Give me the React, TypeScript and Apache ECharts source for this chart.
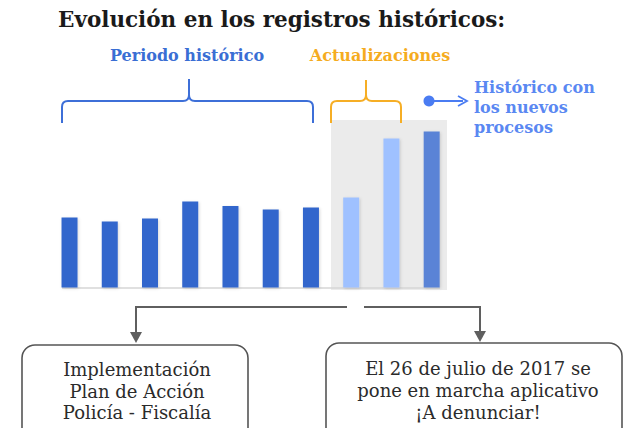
import React, { useEffect, useRef } from 'react';
import * as echarts from 'echarts';

const categories = ['P1', 'P2', 'P3', 'P4', 'P5', 'P6', 'P7', 'P8', 'P9', 'P10'];
const values = [70, 66, 69, 86, 81.5, 78, 80, 90, 149, 156];
const groups = ['hist', 'hist', 'hist', 'hist', 'hist', 'hist', 'hist', 'act', 'act', 'new'];

const titleText = 'Evolución en los registros históricos:';
const histLabel = 'Periodo histórico';
const actLabel = 'Actualizaciones';
const newLabel = ['Histórico con', 'los nuevos', 'procesos'];
const leftBoxLines = ['Implementación', 'Plan de Acción', 'Policía - Fiscalía'];
const rightBoxLines = ['El 26 de julio de 2017 se', 'pone en marcha aplicativo', '¡A denunciar!'];

const groupColors: Record<string, string> = {
  hist: '#3366cc',
  act: '#9fc1ff',
  new: '#5a83d6',
};

let registered = false;
function registerShapes() {
  if (registered) return;
  registered = true;
  echarts.graphic.registerShape(
    'braceBlue',
    echarts.graphic.extendPath(
      'M62,123 L62,107 Q62,101 68,101 L183,101 Q189,101 189,95 L189,79 M189,95 Q189,101 195,101 L307,101 Q313,101 313,107 L313,123',
      {}
    )
  );
  echarts.graphic.registerShape(
    'braceOrange',
    echarts.graphic.extendPath(
      'M331,123 L331,107 Q331,101 337,101 L360,101 Q366,101 366,95 L366,80 M366,95 Q366,101 372,101 L395,101 Q401,101 401,107 L401,123',
      {}
    )
  );
}

function txt(text: string, x: number, y: number, font: string, fill: string, align = 'center', lineHeight?: number) {
  return {
    type: 'text',
    x,
    y,
    z: 10,
    style: {
      text,
      font,
      fill,
      align,
      verticalAlign: 'middle',
      textAlign: align,
      textVerticalAlign: 'middle',
      lineHeight,
    },
  };
}

export default function App() {
  const ref = useRef<HTMLDivElement>(null);
  useEffect(() => {
    if (!ref.current) return;
    registerShapes();
    const chart = echarts.init(ref.current, undefined, { renderer: 'svg' });
    const serif = "'DejaVu Serif', serif";
    chart.setOption({
      animation: false,
      backgroundColor: '#ffffff',
      grid: { left: 49.4, top: 127.5, width: 402.4, height: 160 },
      xAxis: {
        type: 'category',
        data: categories,
        axisLine: { show: false },
        axisTick: { show: false },
        axisLabel: { show: false },
      },
      yAxis: {
        type: 'value',
        min: 0,
        max: 160,
        show: false,
        splitLine: { show: false },
      },
      series: [
        {
          type: 'bar',
          barWidth: 16,
          z: 5,
          data: values.map((v, i) => ({
            value: v,
            itemStyle: { color: groupColors[groups[i]] },
          })),
          itemStyle: {
            shadowColor: 'rgba(0,0,0,0.15)',
            shadowBlur: 3,
            shadowOffsetX: 1,
            shadowOffsetY: 1,
          },
        },
      ],
      graphic: [
        {
          type: 'rect',
          z: 0,
          shape: { x: 331, y: 120, width: 116, height: 170 },
          style: { fill: '#ebebeb' },
        },
        {
          type: 'line',
          z: 1,
          shape: { x1: 62, y1: 288, x2: 440, y2: 288 },
          style: { stroke: '#d6d6d6', lineWidth: 1.5 },
        },
        txt(titleText, 58, 19, `bold 21.5px ${serif}`, '#1a1a1a', 'left'),
        txt(histLabel, 187, 55, `bold 16px ${serif}`, '#3a6ed4'),
        txt(actLabel, 380, 55, `bold 16px ${serif}`, '#f5ac1f'),
        {
          type: 'braceBlue',
          x: 0,
          y: 0,
          z: 5,
          style: { stroke: '#3d6fd8', fill: 'none', lineWidth: 2 },
        },
        {
          type: 'braceOrange',
          x: 0,
          y: 0,
          z: 5,
          style: { stroke: '#f6ae25', fill: 'none', lineWidth: 2 },
        },
        {
          type: 'circle',
          z: 5,
          shape: { cx: 429, cy: 101, r: 5.5 },
          style: { fill: '#4a7cf2' },
        },
        {
          type: 'line',
          z: 5,
          shape: { x1: 429, y1: 101, x2: 463, y2: 101 },
          style: { stroke: '#4a7cf2', lineWidth: 1.8 },
        },
        {
          type: 'polyline',
          z: 5,
          shape: { points: [[458, 96], [467, 101], [458, 106]] },
          style: { stroke: '#4a7cf2', lineWidth: 1.8, fill: 'none' },
        },
        txt(newLabel.join('\n'), 474, 107, `bold 16px ${serif}`, '#5a88f2', 'left', 20),
        // connectors
        {
          type: 'polyline',
          z: 5,
          shape: { points: [[347, 307], [136, 307], [136, 334]] },
          style: { stroke: '#5f5f5f', lineWidth: 2, fill: 'none' },
        },
        {
          type: 'polyline',
          z: 5,
          shape: { points: [[364, 307], [480, 307], [480, 333]] },
          style: { stroke: '#5f5f5f', lineWidth: 2, fill: 'none' },
        },
        {
          type: 'polygon',
          z: 5,
          shape: { points: [[130, 332], [142, 332], [136, 343]] },
          style: { fill: '#5f5f5f' },
        },
        {
          type: 'polygon',
          z: 5,
          shape: { points: [[474, 331], [486, 331], [480, 342]] },
          style: { fill: '#5f5f5f' },
        },
        {
          type: 'rect',
          z: 5,
          shape: { x: 22, y: 345, width: 226, height: 100, r: 13 },
          style: { fill: '#ffffff', stroke: '#555555', lineWidth: 1.6 },
        },
        {
          type: 'rect',
          z: 5,
          shape: { x: 326, y: 343, width: 296, height: 100, r: 13 },
          style: { fill: '#ffffff', stroke: '#555555', lineWidth: 1.6 },
        },
        txt(leftBoxLines.join('\n'), 137, 391, `18px ${serif}`, '#2b2b2b', 'center', 21.5),
        txt(rightBoxLines.join('\n'), 478, 390, `18px ${serif}`, '#2b2b2b', 'center', 22),
      ],
    });
    return () => chart.dispose();
  }, []);
  return (
    <div
      ref={ref}
      style={{ position: 'fixed', left: 0, top: 0, width: 625, height: 428 }}
    />
  );
}
